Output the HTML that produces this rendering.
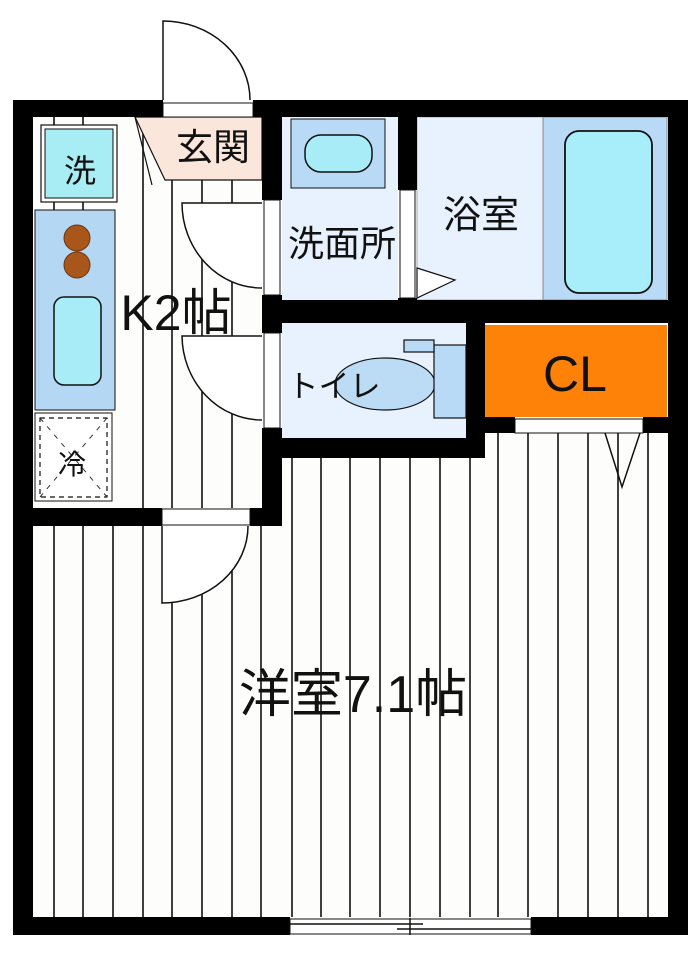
<!DOCTYPE html>
<html><head><meta charset="utf-8"><style>
html,body{margin:0;padding:0;background:#fff;}
svg{display:block}
text{font-family:"Liberation Sans","Noto Sans CJK JP",sans-serif;fill:#111}
</style></head><body>
<svg width="700" height="956" viewBox="0 0 700 956" xmlns="http://www.w3.org/2000/svg">
<rect width="700" height="956" fill="#fff"/>
<!-- floors -->
<rect x="33" y="117" width="229" height="391" fill="#fdfdfb"/>
<rect x="33" y="433" width="635" height="484" fill="#fdfdfb"/>
<g stroke="#111" stroke-width="1.6">
  <line x1="143" y1="130" x2="143" y2="508"/>
  <line x1="172" y1="180" x2="172" y2="508"/>
  <line x1="202" y1="180" x2="202" y2="508"/>
  <line x1="232" y1="180" x2="232" y2="508"/>
  <line x1="54" y1="117" x2="54" y2="125"/><line x1="83" y1="117" x2="83" y2="125"/>
  <line x1="54" y1="202" x2="54" y2="210"/><line x1="83" y1="202" x2="83" y2="210"/>
  <line x1="54" y1="526" x2="54" y2="917"/>
  <line x1="83" y1="526" x2="83" y2="917"/>
  <line x1="113" y1="526" x2="113" y2="917"/>
  <line x1="143" y1="526" x2="143" y2="917"/>
  <line x1="172" y1="526" x2="172" y2="917"/>
  <line x1="202" y1="526" x2="202" y2="917"/>
  <line x1="232" y1="526" x2="232" y2="917"/>
  <line x1="261" y1="526" x2="261" y2="917"/>
  <line x1="292" y1="458" x2="292" y2="917"/>
  <line x1="321" y1="458" x2="321" y2="917"/>
  <line x1="350" y1="458" x2="350" y2="917"/>
  <line x1="380" y1="458" x2="380" y2="917"/>
  <line x1="410" y1="458" x2="410" y2="917"/>
  <line x1="440" y1="458" x2="440" y2="917"/>
  <line x1="470" y1="458" x2="470" y2="917"/>
  <line x1="498" y1="433" x2="498" y2="917"/>
  <line x1="528" y1="433" x2="528" y2="917"/>
  <line x1="558" y1="433" x2="558" y2="917"/>
  <line x1="588" y1="433" x2="588" y2="917"/>
  <line x1="618" y1="433" x2="618" y2="917"/>
  <line x1="648" y1="433" x2="648" y2="917"/>
</g>
<!-- genkan -->
<polygon points="135,117 262,117 262,180 165,180" fill="#fbe6dc" stroke="#111" stroke-width="1.2"/>
<line x1="135" y1="117" x2="152" y2="185" stroke="#111" stroke-width="1.2"/>
<text x="213" y="160" font-size="37" text-anchor="middle">玄関</text>
<!-- wash machine -->
<rect x="41" y="125" width="76" height="77" fill="#fff" stroke="#111" stroke-width="1.2"/>
<rect x="45" y="129" width="68" height="69" fill="#a8ecf4" stroke="#111" stroke-width="1"/>
<text x="80" y="182" font-size="32" text-anchor="middle">洗</text>
<!-- counter -->
<rect x="35" y="210" width="80" height="200" fill="#b4d8f4" stroke="#111" stroke-width="1"/>
<circle cx="77" cy="238" r="13" fill="#a8561a" stroke="#6a3410"/>
<circle cx="77" cy="265" r="13" fill="#a8561a" stroke="#6a3410"/>
<rect x="54" y="297" width="47" height="88" rx="10" fill="#a8ecf8" stroke="#111" stroke-width="1.5"/>
<!-- fridge -->
<rect x="35" y="413" width="77" height="88" fill="#fff" stroke="#111" stroke-width="1"/>
<rect x="40" y="418" width="67" height="79" fill="none" stroke="#111" stroke-width="1.2" stroke-dasharray="5,4"/>
<line x1="40" y1="418" x2="107" y2="497" stroke="#333" stroke-dasharray="5,6"/>
<line x1="107" y1="418" x2="40" y2="497" stroke="#333" stroke-dasharray="5,6"/>
<text x="72" y="474" font-size="28" text-anchor="middle">冷</text>
<!-- wash room -->
<rect x="282" y="117" width="116" height="183" fill="#e8f2fe"/>
<rect x="291" y="119" width="94" height="69" fill="#b8daf6" stroke="#111" stroke-width="1"/>
<rect x="305" y="135" width="67" height="37" rx="16" fill="#a8ecf8" stroke="#111" stroke-width="1.5"/>
<text x="342" y="256" font-size="36" text-anchor="middle">洗面所</text>
<!-- bathroom -->
<rect x="417" y="117" width="126" height="183" fill="#e8f2fe" stroke="#aaa" stroke-width="1"/>
<rect x="543" y="117" width="124" height="183" fill="#b8daf6" stroke="#888" stroke-width="1"/>
<rect x="565" y="131" width="87" height="162" rx="14" fill="#a8eefa" stroke="#111" stroke-width="1.8"/>
<text x="481" y="228" font-size="38" text-anchor="middle">浴室</text>
<polygon points="417,268 455,280 417,298" fill="#fff" stroke="#111" stroke-width="1.2"/>
<!-- toilet -->
<rect x="282" y="323" width="184" height="115" fill="#e8f2fe"/>
<ellipse cx="385" cy="384" rx="50" ry="26" fill="#bcdcf6" stroke="#111" stroke-width="1.2"/>
<rect x="434" y="345" width="32" height="73" fill="#b8daf6" stroke="#111" stroke-width="1.2"/>
<rect x="404" y="340" width="30" height="12" fill="#b8daf6" stroke="#111" stroke-width="1.2"/>
<text x="334" y="397" font-size="31" text-anchor="middle">トイレ</text>
<!-- CL -->
<rect x="485" y="325" width="182" height="92" fill="#ff8208"/>
<text x="575" y="391" font-size="50" text-anchor="middle">CL</text>
<!-- walls -->
<g fill="#000">
  <rect x="13" y="100" width="150" height="17"/>
  <rect x="253" y="100" width="435" height="17"/>
  <rect x="13" y="100" width="20" height="835"/>
  <rect x="668" y="100" width="20" height="835"/>
  <rect x="13" y="917" width="277" height="18"/>
  <rect x="531" y="917" width="157" height="18"/>
  <rect x="262" y="117" width="20" height="83"/>
  <rect x="262" y="295" width="20" height="38"/>
  <rect x="262" y="428" width="20" height="98"/>
  <rect x="398" y="117" width="19" height="73"/>
  <rect x="398" y="298" width="19" height="5"/>
  <rect x="262" y="300" width="426" height="23"/>
  <rect x="466" y="323" width="19" height="135"/>
  <rect x="262" y="438" width="223" height="20"/>
  <rect x="485" y="417" width="30" height="16"/>
  <rect x="643" y="417" width="45" height="16"/>
  <rect x="13" y="508" width="149" height="18"/>
  <rect x="250" y="508" width="32" height="18"/>
</g>
<g fill="#fff" stroke="#111" stroke-width="1">
  <rect x="163" y="103" width="90" height="14"/>
  <rect x="264" y="200" width="16" height="95"/>
  <rect x="264" y="333" width="16" height="95"/>
  <rect x="400" y="190" width="15" height="108"/>
  <rect x="515" y="419" width="128" height="14"/>
  <rect x="162" y="509" width="88" height="16"/>
  <rect x="290" y="919" width="241" height="15"/>
</g>
<g stroke="#111" stroke-width="1.5" fill="#fff">
  <path d="M163,100 L163,21 A87,79 0 0 1 250,100 Z" stroke="none"/>
  <path d="M163,100 L163,21 A87,79 0 0 1 250,100" fill="none"/>
  <path d="M262,203 L182,203 A80,85 0 0 0 262,288 Z" stroke="none"/>
  <path d="M262,203 L182,203 A80,85 0 0 0 262,288" fill="none"/>
  <path d="M262,336 L182,336 A80,85 0 0 0 262,420 Z" stroke="none"/>
  <path d="M262,336 L182,336 A80,85 0 0 0 262,420" fill="none"/>
  <path d="M162,526 L162,603 A86,77 0 0 0 248,526 Z" stroke="none"/>
  <path d="M162,526 L162,603 A86,77 0 0 0 248,526" fill="none"/>
  <path d="M605,433 L622,487 L640,433" fill="none"/>
  <line x1="290" y1="924" x2="423" y2="924"/>
  <line x1="397" y1="929" x2="531" y2="929"/>
  <line x1="410" y1="918" x2="410" y2="935"/>
</g>
<text x="176" y="330" font-size="50" text-anchor="middle">K2帖</text>
<text x="353" y="712" font-size="52" text-anchor="middle">洋室7.1帖</text>
</svg>
</body></html>
